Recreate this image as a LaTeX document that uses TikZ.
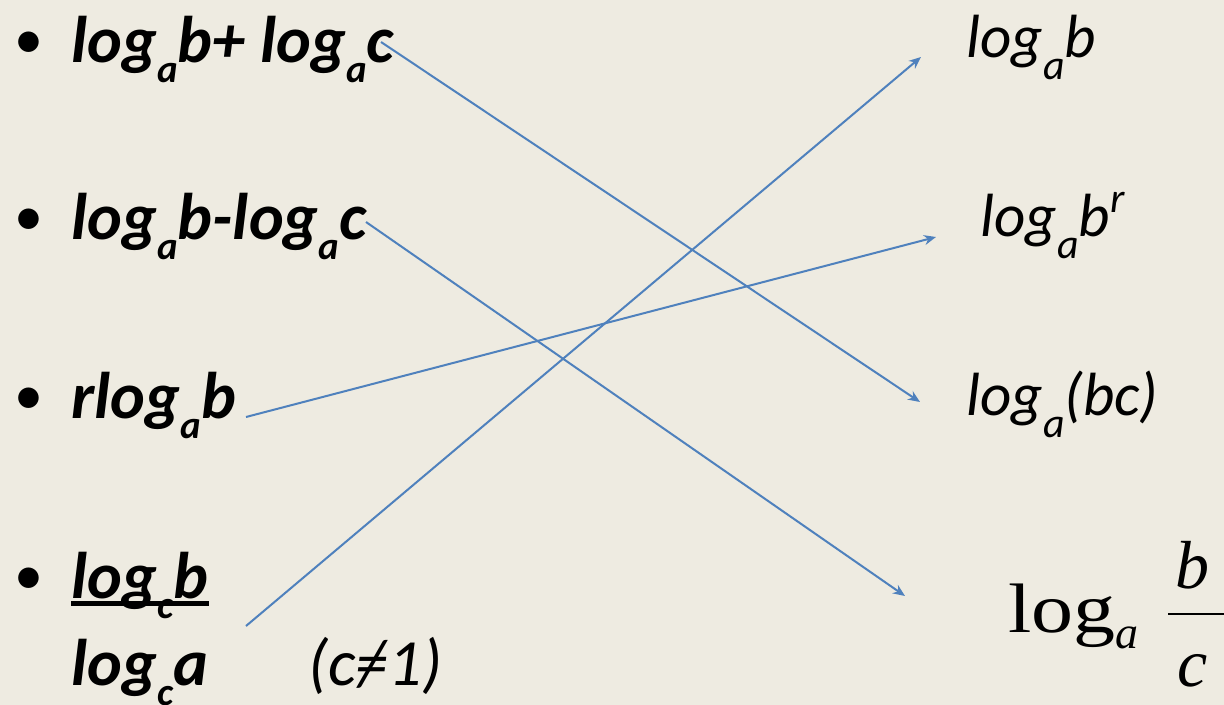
\documentclass[tikz,border=0pt]{standalone}
\usepackage{fontspec}
\usepackage{graphicx}
\setmainfont{Carlito}
\newfontfamily\timesf{Liberation Serif}
\usetikzlibrary{arrows.meta}
\definecolor{bgc}{RGB}{238,235,225}
\definecolor{arrc}{RGB}{79,129,189}
\newcommand{\lsub}[1]{\raisebox{-10pt}{\fontsize{19.5}{19.5}\selectfont #1}}
\newcommand{\rsub}[1]{\raisebox{-11pt}{\fontsize{21}{21}\selectfont #1}}
\newcommand{\rsup}[1]{\raisebox{12pt}{\fontsize{21}{21}\selectfont #1}}
\newcommand{\myneq}{\ooalign{=\cr\hidewidth/\hidewidth\cr}}
\tikzset{
  lefttxt/.style={anchor=base west, inner sep=0pt, font=\fontsize{33}{33}\selectfont\bfseries\itshape},
  bul/.style={anchor=base west, inner sep=0pt, font=\fontsize{29}{29}\selectfont},
  righttxt/.style={anchor=base west, inner sep=0pt, font=\fontsize{30.5}{30.5}\selectfont\itshape},
  link/.style={draw=arrc, line width=1pt, -{Stealth[length=6pt,width=5pt]}}
}
\begin{document}
\begin{tikzpicture}[x=0.5pt,y=-0.5pt]
\fill[bgc] (0,0) rectangle (1224,705);
\useasboundingbox (0,0) rectangle (1224,705);
% bullets
\node[bul] (b1) at (14,59) {•};
\node[bul] (b2) at (14,236) {•};
\node[bul] (b3) at (14,414) {•};
\node[bul] (b4) at (14,594) {•};
% left column
\node[lefttxt] (l1) at (71,63) {log\lsub{a}b+ log\lsub{a}c};
\node[lefttxt] (l2) at (71,240) {log\lsub{a}b-log\lsub{a}c};
\node[lefttxt] (l3) at (71,418) {rlog\lsub{a}b};
\node[lefttxt] (l4) at (71,598) {log\lsub{c}b};
\draw[line width=2.5pt] ([yshift=-2.5pt]l4.base west) -- ([yshift=-2.5pt]l4.base east);
\node[lefttxt] (l5) at (71,685) {log\lsub{c}a};
\node[anchor=base west, inner sep=0pt, font=\fontsize{33}{33}\selectfont\itshape] (cond) at (308,685) {(c\myneq1)};
% right column
\node[righttxt] (r1) at (966,58) {log\rsub{a}b};
\node[righttxt] (r2) at (980,237) {log\rsub{a}b\rsup{r}};
\node[righttxt] (r3) at (966,415) {log\rsub{a}(bc)};
\node[anchor=base west, inner sep=0pt, font=\timesf\fontsize{35}{35}\selectfont] (r4) at (1008,632) {\scalebox{1.2}[1]{log}\raisebox{-8pt}{\fontsize{23}{23}\selectfont\itshape a}};
\node[anchor=base west, inner sep=0pt, font=\timesf\fontsize{34}{34}\selectfont\itshape] (r4b) at (1175,588) {b};
\node[anchor=base west, inner sep=0pt, font=\timesf\fontsize{34}{34}\selectfont\itshape] (r4c) at (1177,686) {c};
\draw[line width=1.4pt] (1168,614) -- (1240,614);
% arrow endpoints
\coordinate (s1) at (381,42);
\coordinate (e1) at (920,402);
\coordinate (s2) at (366,222);
\coordinate (e2) at (905,596);
\coordinate (s3) at (246,417);
\coordinate (e3) at (936,237);
\coordinate (s4) at (246,626);
\coordinate (e4) at (921,57);
\draw[link] (s1) -- (e1);
\draw[link] (s2) -- (e2);
\draw[link] (s3) -- (e3);
\draw[link] (s4) -- (e4);
\end{tikzpicture}
\end{document}
